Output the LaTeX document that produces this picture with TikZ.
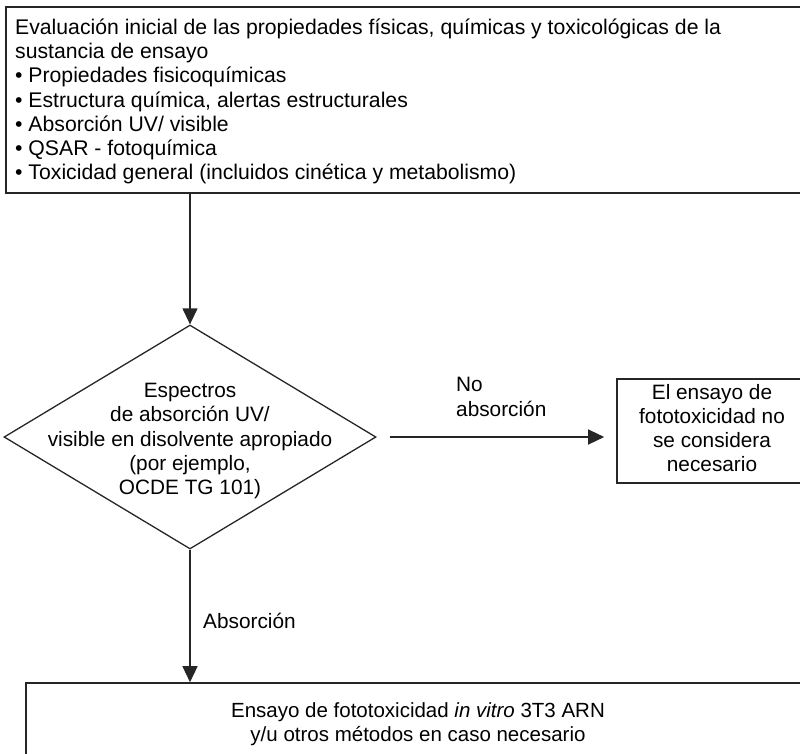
\documentclass[tikz,border=0pt]{standalone}
\usepackage{fontspec}
\setmainfont{Liberation Sans}
\usetikzlibrary{shapes.geometric,arrows.meta}
\begin{document}
\begin{tikzpicture}[x=1pt,y=-1pt,
  boxline/.style={draw=black!85, line width=1.6pt},
  txt/.style={font=\fontsize{20.8}{24.2}\selectfont, inner sep=0pt},
  arr/.style={draw=black!85, line width=1.3pt, -{Triangle[length=16pt,width=15pt]}}]
\useasboundingbox (0,0) rectangle (800,753);
\begin{scope}
\clip (0,0) rectangle (800,753);
% top box
\node[boxline, rectangle, minimum width=806pt, minimum height=186pt, inner sep=0pt] (top) at (409,100) {};
\node[txt, font=\fontsize{21.2}{24.2}\selectfont, anchor=west, align=left] (toptext) at (15,101.5) {Evaluación inicial de las propiedades físicas, químicas y toxicológicas de la\\sustancia de ensayo\\• Propiedades fisicoquímicas\\• Estructura química, alertas estructurales\\• Absorción UV/ visible\\• QSAR - fotoquímica\\• Toxicidad general (incluidos cinética y metabolismo)};
% diamond
\node[diamond, draw=black!85, line width=1.3pt, minimum width=372pt, minimum height=224pt, inner sep=0pt] (dec) at (190,437) {};
\node[txt, align=center] (dectext) at (190,441) {Espectros\\de absorción UV/\\visible en disolvente apropiado\\(por ejemplo,\\OCDE TG 101)};
% right box
\node[boxline, rectangle, minimum width=190pt, minimum height=104pt, inner sep=0pt] (nr) at (712,431) {};
\node[txt, align=center] (nrtext) at (712,428) {El ensayo de\\fototoxicidad no\\se considera\\necesario};
% bottom box
\node[boxline, rectangle, minimum width=800pt, minimum height=140pt, inner sep=0pt] (bot) at (426,753) {};
\node[txt, font=\fontsize{20.5}{24.2}\selectfont, align=center] (bottext) at (418,724) {Ensayo de fototoxicidad \emph{in vitro} 3T3 ARN\\y/u otros métodos en caso necesario};
% arrows
\draw[arr] (dec.north |- top.south) -- (dec.north);
\draw[arr, shorten <=13pt, shorten >=12pt] (dec.east) -- (dec.east -| nr.west);
\draw[arr] (dec.south) -- (dec.south |- bot.north);
% labels
\node[txt, anchor=west, align=left] (nolab) at (456,397) {No\\absorción};
\node[txt, anchor=west] (ablab) at (203,621) {Absorción};
\end{scope}
\end{tikzpicture}
\end{document}
